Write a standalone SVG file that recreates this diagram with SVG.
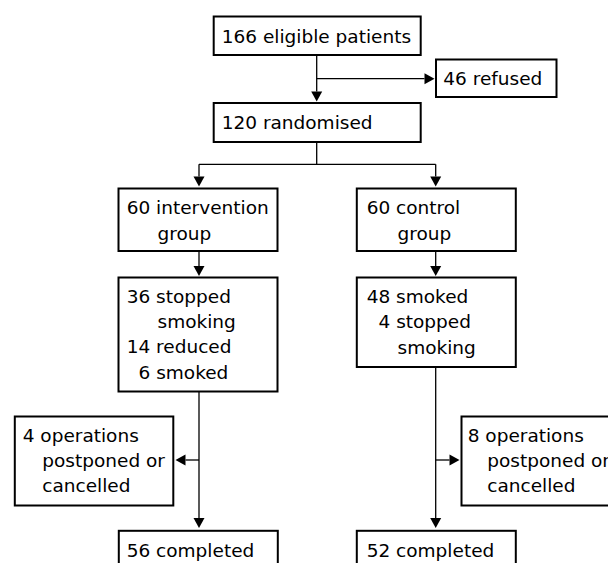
<svg xmlns="http://www.w3.org/2000/svg" width="608" height="563" viewBox="0 0 608 563">
<defs>
<marker id="ah" markerUnits="userSpaceOnUse" markerWidth="10" markerHeight="11" refX="0" refY="5.5" orient="auto" overflow="visible">
<path d="M0,0 L10,5.5 L0,11 z" fill="#000"/>
</marker>
<style>
.box{fill:#fff;stroke:#000;stroke-width:2}
.t{font-family:"DejaVu Sans",sans-serif;font-size:18.5px;fill:#000}
.c{fill:none;stroke:#000;stroke-width:1.3}
.a{marker-end:url(#ah)}
</style>
</defs>
<rect width="608" height="563" fill="#fff"/>
<g id="connectors">
<path class="c a" d="M316.7,55 V91.5"/>
<path class="c a" d="M316.7,78.7 H424.5"/>
<path class="c" d="M316.7,142 V164.3 M199,164.3 H435.7"/>
<path class="c a" d="M199,164.3 V176.5"/>
<path class="c a" d="M435.7,164.3 V176.5"/>
<path class="c a" d="M199,251 V266"/>
<path class="c a" d="M435.7,251 V266"/>
<path class="c a" d="M199,392 V518"/>
<path class="c a" d="M199,460 H185.5"/>
<path class="c a" d="M435.7,367 V518"/>
<path class="c a" d="M435.7,460 H449.5"/>
</g>
<g id="eligible">
<rect class="box" x="213.7" y="16.5" width="207" height="38.5"/>
<text class="t" x="221.7" y="43.3">166 eligible patients</text>
</g>
<g id="refused">
<rect class="box" x="436" y="59.5" width="120.5" height="37.5"/>
<text class="t" x="443.3" y="85">46 refused</text>
</g>
<g id="randomised">
<rect class="box" x="213.7" y="103" width="207" height="39"/>
<text class="t" x="221.7" y="129.3">120 randomised</text>
</g>
<g id="intervention">
<rect class="box" x="118.5" y="188.5" width="159" height="62.5"/>
<text class="t"><tspan x="126.7" y="214">60 intervention</tspan><tspan x="157.5" y="240">group</tspan></text>
</g>
<g id="control">
<rect class="box" x="356.8" y="188.5" width="159" height="62.5"/>
<text class="t"><tspan x="366.7" y="214">60 control</tspan><tspan x="397.5" y="240">group</tspan></text>
</g>
<g id="intervention-outcome">
<rect class="box" x="118.5" y="277.5" width="159" height="114"/>
<text class="t"><tspan x="126.7" y="302.7">36 stopped</tspan><tspan x="157.5" y="328">smoking</tspan><tspan x="126.7" y="353.3">14 reduced</tspan><tspan x="138.5" y="378.5">6 smoked</tspan></text>
</g>
<g id="control-outcome">
<rect class="box" x="356.8" y="277.5" width="159" height="89.5"/>
<text class="t"><tspan x="366.7" y="302.7">48 smoked</tspan><tspan x="378.5" y="328.2">4 stopped</tspan><tspan x="397.5" y="353.5">smoking</tspan></text>
</g>
<g id="ops4">
<rect class="box" x="14.8" y="416.5" width="158.5" height="89"/>
<text class="t"><tspan x="22.7" y="441.7">4 operations</tspan><tspan x="42.3" y="467">postponed or</tspan><tspan x="42.3" y="491.7">cancelled</tspan></text>
</g>
<g id="ops8">
<rect class="box" x="461.5" y="416.5" width="158.5" height="89"/>
<text class="t"><tspan x="467.7" y="441.7">8 operations</tspan><tspan x="487.3" y="467">postponed or</tspan><tspan x="487.3" y="491.7">cancelled</tspan></text>
</g>
<g id="completed56">
<rect class="box" x="118.8" y="530.8" width="159" height="45"/>
<text class="t" x="126.7" y="556.7">56 completed</text>
</g>
<g id="completed52">
<rect class="box" x="356.8" y="530.8" width="159" height="45"/>
<text class="t" x="366.7" y="556.7">52 completed</text>
</g>
</svg>
